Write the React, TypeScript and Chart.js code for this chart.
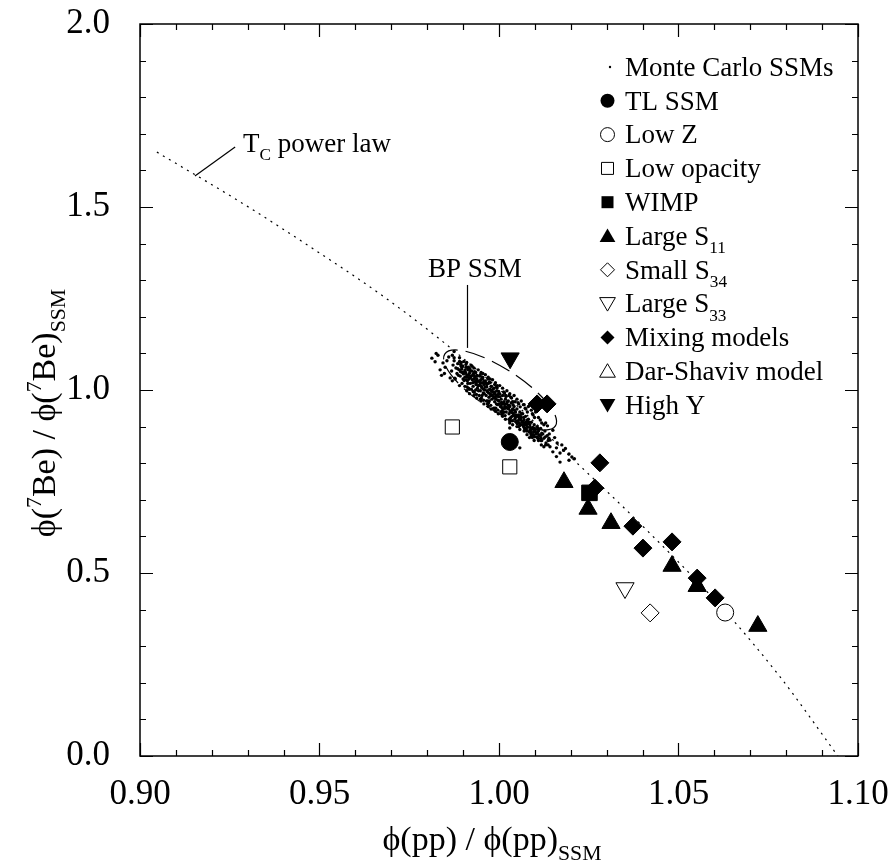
import React, { useEffect, useRef } from 'react';
import { Chart, registerables } from 'chart.js';

Chart.register(...registerables);

const FONT = "'Liberation Serif', 'Times New Roman', serif";

// ---------- axis ticks ----------
const xMajorTicks = [0.9, 0.95, 1.0, 1.05, 1.1];
const xMinorTicks = [0.91, 0.92, 0.93, 0.94, 0.96, 0.97, 0.98, 0.99, 1.01, 1.02, 1.03, 1.04, 1.06, 1.07, 1.08, 1.09];
const yMajorTicks = [0, 0.5, 1.0, 1.5, 2.0];
const yMinorTicks = [0.1, 0.2, 0.3, 0.4, 0.6, 0.7, 0.8, 0.9, 1.1, 1.2, 1.3, 1.4, 1.6, 1.7, 1.8, 1.9];

// ---------- T_C power law curve ----------
const tcX = [0.9047, 0.9279, 0.9482, 0.9669, 0.9827, 1.0003, 1.0192, 1.0393, 1.0632, 1.0783, 1.0944];
const tcY = [1.65, 1.514, 1.386, 1.262, 1.145, 1.0, 0.824, 0.635, 0.393, 0.216, 0.0];

// ---------- models ----------
const tlX = [1.003];
const tlY = [0.858];
const lowZX = [1.063];
const lowZY = [0.392];
const lowOpX = [0.987, 1.003];
const lowOpY = [0.899, 0.79];
const wimpX = [1.0252];
const wimpY = [0.719];
const s11X = [1.0181, 1.0248, 1.0312, 1.0482, 1.0552, 1.0721];
const s11Y = [0.748, 0.675, 0.636, 0.519, 0.464, 0.355];
const s34X = [1.0421];
const s34Y = [0.391];
const s33X = [1.0351];
const s33Y = [0.459];
const mixX = [1.0106, 1.0134, 1.0281, 1.0267, 1.0373, 1.0401, 1.0482, 1.0552, 1.0602];
const mixY = [0.962, 0.962, 0.801, 0.732, 0.628, 0.568, 0.585, 0.486, 0.432];
const dsX = [1.0552];
const dsY = [0.464];
const highYX = [1.0031];
const highYY = [1.087];

// ---------- Monte Carlo SSMs (read from the cloud) ----------
const mcPoints: [number, number][] = [
  [0.9813, 1.087], [0.9822, 1.077], [0.9844, 1.074], [0.9836, 1.055], [0.983, 1.095], [0.985, 1.062], [0.9855, 1.08], [0.9864, 1.033], [0.986, 1.09], [0.9848, 1.045],
  [0.9872, 1.068], [0.9868, 1.052], [0.9875, 1.08], [0.988, 1.06], [0.9883, 1.045], [0.9885, 1.072], [0.9889, 1.055], [0.9892, 1.038], [0.9895, 1.065], [0.9898, 1.048], [0.9878, 1.03], [0.989, 1.078], [0.99, 1.03], [0.9896, 1.057],
  [0.9903, 1.05], [0.9905, 1.035], [0.9908, 1.062], [0.991, 1.042], [0.9912, 1.025], [0.9914, 1.055], [0.9916, 1.033], [0.9918, 1.046], [0.992, 1.018], [0.9922, 1.038], [0.9924, 1.052], [0.9926, 1.028], [0.9928, 1.01], [0.993, 1.04], [0.9932, 1.022], [0.9934, 1.047], [0.9936, 1.015], [0.9938, 1.03], [0.994, 1.005], [0.9915, 1.005], [0.9925, 1.065], [0.9935, 1.0],
  [0.9942, 1.025], [0.9944, 1.012], [0.9946, 1.038], [0.9948, 0.998], [0.995, 1.02], [0.9952, 1.006], [0.9954, 1.03], [0.9956, 0.992], [0.9958, 1.015], [0.996, 1.0], [0.9962, 1.025], [0.9964, 0.985], [0.9966, 1.008], [0.9968, 0.995], [0.997, 1.018], [0.9972, 0.98], [0.9974, 1.002], [0.9976, 0.99], [0.9978, 1.01], [0.998, 0.975], [0.9945, 0.985], [0.9955, 1.045], [0.9965, 0.97], [0.9975, 1.03],
  [0.9982, 0.995], [0.9984, 0.982], [0.9986, 1.005], [0.9988, 0.968], [0.999, 0.988], [0.9992, 0.975], [0.9994, 0.998], [0.9996, 0.96], [0.9998, 0.982], [1.0, 0.97], [1.0002, 0.99], [1.0004, 0.955], [1.0006, 0.975], [1.0008, 0.962], [1.001, 0.985], [1.0012, 0.948], [1.0014, 0.968], [1.0016, 0.955], [1.0018, 0.975], [1.002, 0.94], [0.9985, 0.95], [0.9995, 1.012], [1.0005, 0.94], [1.0015, 0.992],
  [1.0022, 0.962], [1.0024, 0.95], [1.0026, 0.97], [1.0028, 0.935], [1.003, 0.955], [1.0032, 0.942], [1.0034, 0.965], [1.0036, 0.928], [1.0038, 0.948], [1.004, 0.935], [1.0042, 0.955], [1.0044, 0.92], [1.0046, 0.94], [1.0048, 0.928], [1.005, 0.948], [1.0052, 0.912], [1.0054, 0.932], [1.0056, 0.92], [1.0058, 0.94], [1.006, 0.905], [1.003, 0.91], [1.0045, 0.968], [1.0055, 0.9],
  [1.0062, 0.925], [1.0064, 0.912], [1.0066, 0.935], [1.0068, 0.9], [1.007, 0.918], [1.0072, 0.905], [1.0074, 0.928], [1.0076, 0.892], [1.0078, 0.912], [1.008, 0.898], [1.0082, 0.92], [1.0084, 0.885], [1.0086, 0.905], [1.0088, 0.892], [1.009, 0.912], [1.0092, 0.878], [1.0094, 0.898], [1.0096, 0.885], [1.0098, 0.905], [1.01, 0.872],
  [1.0102, 0.892], [1.0104, 0.88], [1.0106, 0.9], [1.0108, 0.868], [1.011, 0.888], [1.0113, 0.875], [1.0116, 0.895], [1.0119, 0.862], [1.0122, 0.88], [1.0125, 0.868], [1.0128, 0.888], [1.0131, 0.855], [1.0134, 0.875], [1.0137, 0.862], [1.014, 0.88],
  [1.0142, 0.863], [1.015, 0.831], [1.0162, 0.855], [1.017, 0.828], [1.0203, 0.817], [1.017, 0.803], [1.0142, 0.845], [1.0155, 0.87], [1.0185, 0.84], [1.0175, 0.85], [1.003, 0.896], [1.0058, 0.842], [1.0195, 0.825], [1.0125, 0.845], [1.0085, 0.87],
  [0.9885, 1.058], [0.9893, 1.05], [0.9901, 1.044], [0.9907, 1.048], [0.9911, 1.036], [0.9917, 1.03], [0.9921, 1.034], [0.9927, 1.02], [0.9931, 1.03], [0.9937, 1.02], [0.9941, 1.012], [0.9947, 1.015], [0.9951, 1.01], [0.9957, 1.002], [0.9961, 1.008], [0.9967, 0.998], [0.9971, 0.992], [0.9977, 0.985], [0.9981, 0.985], [0.9987, 0.978], [0.9991, 0.982], [0.9997, 0.972], [1.0001, 0.962], [1.0007, 0.966], [1.0011, 0.962], [1.0017, 0.95], [1.0021, 0.952], [1.0027, 0.948], [1.0031, 0.94], [1.0037, 0.938], [1.0041, 0.93], [1.0047, 0.932], [1.0051, 0.928], [1.0057, 0.925], [1.0061, 0.918], [1.0067, 0.915], [1.0071, 0.91], [1.0077, 0.905], [1.0081, 0.908], [1.0087, 0.898], [1.0091, 0.893], [1.0097, 0.892], [1.0101, 0.885], [1.0107, 0.884], [1.0111, 0.878], [1.0117, 0.876],
  [0.9903, 1.026], [0.9913, 1.018], [0.9923, 1.002], [0.9933, 1.035], [0.9943, 0.998], [0.9953, 0.985], [0.9963, 1.02], [0.9973, 0.97], [0.9983, 1.002], [0.9993, 0.962], [1.0003, 0.982], [1.0013, 0.94], [1.0023, 0.968], [1.0033, 0.925], [1.0043, 0.945], [1.0053, 0.915], [1.0063, 0.935], [1.0073, 0.895], [1.0083, 0.912], [1.0093, 0.87],
  [0.987, 1.095], [0.987, 1.025], [0.989, 1.088], [0.989, 1.012], [0.9893, 1.07], [0.991, 1.075], [0.991, 0.998], [0.9913, 1.06], [0.993, 1.06], [0.993, 0.985], [0.9932, 1.05], [0.995, 1.048], [0.995, 0.97], [0.9953, 1.035], [0.9948, 0.975],
  [0.997, 1.035], [0.997, 0.955], [0.9973, 1.022], [0.9968, 0.962], [0.999, 1.02], [0.999, 0.942], [0.9993, 1.008], [0.9988, 0.95], [1.001, 1.005], [1.001, 0.928], [1.0013, 0.995], [1.0008, 0.935], [1.003, 0.99], [1.003, 0.915], [1.0033, 0.98], [1.0028, 0.92],
  [1.005, 0.975], [1.005, 0.9], [1.0053, 0.965], [1.007, 0.96], [1.007, 0.888], [1.0073, 0.95], [1.009, 0.945], [1.009, 0.875], [1.0093, 0.935], [1.011, 0.925], [1.011, 0.862], [1.013, 0.91], [1.013, 0.85], [1.015, 0.89], [1.016, 0.842],
  [0.9825, 1.1], [0.984, 1.04], [0.9875, 1.105], [0.9905, 1.01], [1.0125, 0.905], [1.018, 0.835], [1.021, 0.812], [1.0195, 0.808], [1.016, 0.818],
  [0.9887, 1.04], [0.9897, 1.062], [0.9909, 1.028], [0.9919, 1.058], [0.9929, 1.045], [0.9939, 1.04], [0.9949, 1.028], [0.9959, 0.99], [0.9969, 1.03], [0.9979, 0.998], [0.9989, 0.995], [0.9999, 0.99], [1.0009, 0.95], [1.0019, 0.985], [1.0029, 0.958], [1.0039, 0.96], [1.0049, 0.915], [1.0059, 0.93], [1.0069, 0.925], [1.0079, 0.918], [1.0089, 0.88], [1.0099, 0.895], [1.0109, 0.895], [1.0119, 0.882], [1.0129, 0.872], [1.0139, 0.868],
  [0.9906, 1.055], [0.9916, 1.04], [0.9926, 1.04], [0.9936, 1.025], [0.9946, 1.022], [0.9956, 1.02], [0.9966, 1.015], [0.9976, 1.0], [0.9986, 0.99], [0.9996, 0.985], [1.0006, 0.955], [1.0016, 0.962], [1.0026, 0.958], [1.0036, 0.945], [1.0046, 0.925], [1.0056, 0.91], [1.0066, 0.905], [1.0076, 0.912], [1.0086, 0.89], [1.0096, 0.878], [1.0106, 0.872], [1.0116, 0.868],
  [0.9875, 1.088], [0.9877, 1.032], [0.9895, 1.075], [0.9897, 1.018], [0.9899, 1.066], [0.9915, 1.062], [0.9917, 1.002], [0.9919, 1.052], [0.9911, 1.008],
  [0.9935, 1.048], [0.9937, 0.988], [0.9939, 1.038], [0.9931, 0.994], [0.9955, 1.034], [0.9957, 0.972], [0.9959, 1.024], [0.9951, 0.978],
  [0.9975, 1.02], [0.9977, 0.958], [0.9979, 1.01], [0.9971, 0.965], [0.9995, 1.006], [0.9997, 0.945], [0.9999, 0.996], [0.9991, 0.95],
  [1.0015, 0.992], [1.0017, 0.93], [1.0019, 0.982], [1.0011, 0.936], [1.0035, 0.978], [1.0037, 0.916], [1.0039, 0.968], [1.0031, 0.922],
  [1.0055, 0.962], [1.0057, 0.902], [1.0059, 0.954], [1.0051, 0.908], [1.0075, 0.948], [1.0077, 0.888], [1.0079, 0.94], [1.0071, 0.895],
  [1.0095, 0.932], [1.0097, 0.875], [1.0099, 0.925], [1.0115, 0.918], [1.0117, 0.862], [1.0119, 0.91], [1.0135, 0.902], [1.0137, 0.85],
  [0.9902, 1.078], [0.9922, 1.068], [0.9942, 1.055], [0.9962, 1.042], [0.9982, 1.028], [1.0002, 1.012], [1.0022, 0.998], [1.0042, 0.985], [1.0062, 0.97], [1.0082, 0.955], [1.0102, 0.94],
  [0.9918, 0.99], [0.9938, 0.978], [0.9958, 0.962], [0.9978, 0.948], [0.9998, 0.935], [1.0018, 0.92], [1.0038, 0.905], [1.0058, 0.892], [1.0078, 0.878], [1.0098, 0.862], [1.0118, 0.85],
  [0.9908, 1.07], [0.9948, 1.042], [0.9988, 1.015], [1.0028, 0.985], [1.0068, 0.96], [0.9928, 0.996], [0.9968, 0.97], [1.0008, 0.942], [1.0048, 0.912], [1.0088, 0.885],
];

type Part = { t: string; sub?: boolean; sup?: boolean };

function pts(xs: number[], ys: number[]) {
  return xs.map((x, i) => ({ x, y: ys[i] }));
}

function drawRich(ctx: CanvasRenderingContext2D, parts: Part[], x: number, y: number, size: number, measureOnly = false): number {
  let cx = x;
  for (const p of parts) {
    const s = p.sub || p.sup ? size * 0.64 : size;
    ctx.font = `${s}px ${FONT}`;
    const dy = p.sub ? size * 0.3 : p.sup ? -size * 0.4 : 0;
    if (!measureOnly) ctx.fillText(p.t, cx, y + dy);
    cx += ctx.measureText(p.t).width;
  }
  return cx - x;
}

function drawSym(ctx: CanvasRenderingContext2D, style: string, x: number, y: number, r: number, fill: boolean) {
  ctx.beginPath();
  if (style === 'circle') ctx.arc(x, y, r, 0, Math.PI * 2);
  else if (style === 'square') ctx.rect(x - r, y - r, 2 * r, 2 * r);
  else if (style === 'tri') {
    ctx.moveTo(x, y - r);
    ctx.lineTo(x + r * 1.05, y + r * 0.8);
    ctx.lineTo(x - r * 1.05, y + r * 0.8);
    ctx.closePath();
  } else if (style === 'tridown') {
    ctx.moveTo(x, y + r);
    ctx.lineTo(x + r * 1.05, y - r * 0.8);
    ctx.lineTo(x - r * 1.05, y - r * 0.8);
    ctx.closePath();
  } else if (style === 'diamond') {
    ctx.moveTo(x, y - r);
    ctx.lineTo(x + r, y);
    ctx.lineTo(x, y + r);
    ctx.lineTo(x - r, y);
    ctx.closePath();
  }
  if (fill) {
    ctx.fillStyle = '#000';
    ctx.fill();
  } else {
    ctx.fillStyle = '#fff';
    ctx.fill();
    ctx.lineWidth = 1;
    ctx.strokeStyle = '#000';
    ctx.stroke();
  }
}

const legendItems: { parts: Part[]; style: string; fill: boolean; r: number }[] = [
  { parts: [{ t: 'Monte Carlo SSMs' }], style: 'dot', fill: true, r: 1.2 },
  { parts: [{ t: 'TL SSM' }], style: 'circle', fill: true, r: 7 },
  { parts: [{ t: 'Low Z' }], style: 'circle', fill: false, r: 7 },
  { parts: [{ t: 'Low opacity' }], style: 'square', fill: false, r: 6 },
  { parts: [{ t: 'WIMP' }], style: 'square', fill: true, r: 6 },
  { parts: [{ t: 'Large S' }, { t: '11', sub: true }], style: 'tri', fill: true, r: 7.5 },
  { parts: [{ t: 'Small S' }, { t: '34', sub: true }], style: 'diamond', fill: false, r: 7 },
  { parts: [{ t: 'Large S' }, { t: '33', sub: true }], style: 'tridown', fill: false, r: 7.5 },
  { parts: [{ t: 'Mixing models' }], style: 'diamond', fill: true, r: 7 },
  { parts: [{ t: 'Dar-Shaviv model' }], style: 'tri', fill: false, r: 7.5 },
  { parts: [{ t: 'High Y' }], style: 'tridown', fill: true, r: 7.5 },
];

const decorPlugin = {
  id: 'decor',
  beforeDatasetsDraw(chart: any) {
    const { ctx, scales } = chart;
    const x = scales.x, y = scales.y;
    // BP SSM ellipse
    const cx = x.getPixelForValue(1.0003);
    const cy = y.getPixelForValue(1.0);
    ctx.save();
    ctx.beginPath();
    ctx.ellipse(cx, cy, 66, 21, (33 * Math.PI) / 180, 0, Math.PI * 2);
    ctx.setLineDash([20, 8]);
    ctx.lineWidth = 1.2;
    ctx.strokeStyle = '#000';
    ctx.stroke();
    ctx.restore();
  },
  afterDraw(chart: any) {
    const { ctx, chartArea, scales } = chart;
    const { left, right, top, bottom } = chartArea;
    const x = scales.x, y = scales.y;
    ctx.save();
    ctx.strokeStyle = '#000';
    ctx.lineWidth = 1.5;
    ctx.strokeRect(left, top, right - left, bottom - top);
    ctx.lineWidth = 1.2;
    ctx.beginPath();
    const tick = (len: number, vals: number[], axis: 'x' | 'y') => {
      for (const v of vals) {
        if (axis === 'x') {
          const p = Math.round(x.getPixelForValue(v)) + 0.5;
          ctx.moveTo(p, bottom);
          ctx.lineTo(p, bottom - len);
          ctx.moveTo(p, top);
          ctx.lineTo(p, top + len);
        } else {
          const p = Math.round(y.getPixelForValue(v)) + 0.5;
          ctx.moveTo(left, p);
          ctx.lineTo(left + len, p);
          ctx.moveTo(right, p);
          ctx.lineTo(right - len, p);
        }
      }
    };
    tick(13, xMajorTicks, 'x');
    tick(6, xMinorTicks, 'x');
    tick(13, yMajorTicks, 'y');
    tick(6, yMinorTicks, 'y');
    ctx.stroke();

    ctx.fillStyle = '#000';
    ctx.textBaseline = 'alphabetic';
    ctx.textAlign = 'left';

    // x title
    const xt: Part[] = [{ t: 'ϕ(pp) / ϕ(pp)' }, { t: 'SSM', sub: true }];
    const xw = drawRich(ctx, xt, 0, 0, 34, true);
    drawRich(ctx, xt, 492 - xw / 2, 850, 34);

    // y title
    const yt: Part[] = [{ t: 'ϕ(' }, { t: '7', sup: true }, { t: 'Be) / ϕ(' }, { t: '7', sup: true }, { t: 'Be)' }, { t: 'SSM', sub: true }];
    const yw = drawRich(ctx, yt, 0, 0, 34, true);
    ctx.save();
    ctx.translate(55, 413 + yw / 2);
    ctx.rotate(-Math.PI / 2);
    drawRich(ctx, yt, 0, 0, 34);
    ctx.restore();

    // T_C power law annotation
    ctx.lineWidth = 1.2;
    ctx.beginPath();
    ctx.moveTo(x.getPixelForValue(0.9153), y.getPixelForValue(1.585));
    ctx.lineTo(x.getPixelForValue(0.9265), y.getPixelForValue(1.664));
    ctx.stroke();
    drawRich(ctx, [{ t: 'T' }, { t: 'C', sub: true }, { t: ' power law' }], x.getPixelForValue(0.9287), y.getPixelForValue(1.65), 27);

    // BP SSM annotation
    drawRich(ctx, [{ t: 'BP SSM' }], x.getPixelForValue(0.9802), y.getPixelForValue(1.309), 27);
    ctx.beginPath();
    const lx = Math.round(x.getPixelForValue(0.9911)) + 0.5;
    ctx.moveTo(lx, y.getPixelForValue(1.287));
    ctx.lineTo(lx, y.getPixelForValue(1.115));
    ctx.stroke();

    // legend
    legendItems.forEach((it, i) => {
      const cy = 67 + 33.8 * i;
      if (it.style === 'dot') {
        ctx.beginPath();
        ctx.arc(610, cy, it.r, 0, Math.PI * 2);
        ctx.fillStyle = '#000';
        ctx.fill();
      } else {
        drawSym(ctx, it.style, 607.5, cy, it.r, it.fill);
      }
      ctx.fillStyle = '#000';
      drawRich(ctx, it.parts, 625, cy + 8.8, 27);
    });
    ctx.restore();
  },
};

export default function App() {
  const ref = useRef<HTMLCanvasElement | null>(null);
  useEffect(() => {
    if (!ref.current) return;
    const open = { backgroundColor: '#fff', borderColor: '#000', borderWidth: 1 };
    const filled = { backgroundColor: '#000', borderColor: '#000', borderWidth: 1 };
    const chart = new Chart(ref.current, {
      type: 'scatter',
      data: {
        datasets: [
          { label: 'TL SSM', data: pts(tlX, tlY), pointStyle: 'circle', pointRadius: 8.5, order: 5, ...filled },
          { label: 'Low Z', data: pts(lowZX, lowZY), pointStyle: 'circle', pointRadius: 8.5, order: 5, ...open },
          { label: 'Low opacity', data: pts(lowOpX, lowOpY), pointStyle: 'rect', pointRadius: 10, order: 5, ...open },
          { label: 'WIMP', data: pts(wimpX, wimpY), pointStyle: 'rect', pointRadius: 11, order: 6, ...filled },
          { label: 'Large S11', data: pts(s11X, s11Y), pointStyle: 'triangle', pointRadius: 10.5, order: 5, ...filled },
          { label: 'Small S34', data: pts(s34X, s34Y), pointStyle: 'rectRot', pointRadius: 9, order: 5, ...open },
          { label: 'Large S33', data: pts(s33X, s33Y), pointStyle: 'triangle', pointRotation: 180, pointRadius: 10.5, order: 5, ...open },
          { label: 'Mixing models', data: pts(mixX, mixY), pointStyle: 'rectRot', pointRadius: 9, order: 4, ...filled },
          { label: 'Dar-Shaviv model', data: pts(dsX, dsY), pointStyle: 'triangle', pointRadius: 10, order: 8, ...open },
          { label: 'High Y', data: pts(highYX, highYY), pointStyle: 'triangle', pointRotation: 180, pointRadius: 10.5, order: 5, ...filled },
          { label: 'Monte Carlo SSMs', data: mcPoints.map(([x, y]) => ({ x, y })), pointStyle: 'circle', pointRadius: 1.7, borderWidth: 0, backgroundColor: '#000', order: 9 },
          {
            label: 'TC power law',
            data: pts(tcX, tcY),
            showLine: true,
            pointRadius: 0,
            borderColor: '#000',
            borderWidth: 1.2,
            borderDash: [2, 5],
            cubicInterpolationMode: 'monotone',
            order: 10,
          } as any,
        ],
      },
      options: {
        responsive: false,
        animation: false,
        devicePixelRatio: 1,
        layout: { padding: { left: 0, top: 24, right: 38, bottom: 0 } },
        plugins: { legend: { display: false }, tooltip: { enabled: false } },
        scales: {
          x: {
            type: 'linear',
            min: 0.9,
            max: 1.1,
            grid: { display: false },
            border: { display: false },
            ticks: {
              stepSize: 0.05,
              color: '#000',
              padding: 10,
              maxRotation: 0,
              autoSkip: false,
              font: { family: FONT, size: 35 },
              callback: (v: any) => Number(v).toFixed(2),
            },
            afterFit: (s: any) => {
              s.height = 106;
              s.paddingLeft = 0;
              s.paddingRight = 0;
              s.paddingTop = 0;
              s.paddingBottom = 0;
            },
          },
          y: {
            type: 'linear',
            min: 0,
            max: 2,
            grid: { display: false },
            border: { display: false },
            ticks: {
              stepSize: 0.5,
              color: '#000',
              padding: 22,
              autoSkip: false,
              font: { family: FONT, size: 35 },
              callback: (v: any) => Number(v).toFixed(1),
            },
            afterFit: (s: any) => {
              s.width = 140;
              s.paddingLeft = 0;
              s.paddingRight = 0;
              s.paddingTop = 0;
              s.paddingBottom = 0;
            },
          },
        },
      } as any,
      plugins: [decorPlugin],
    });
    return () => chart.destroy();
  }, []);
  return (
    <div style={{ position: 'fixed', left: 0, top: 0, width: 896, height: 862, background: '#fff' }}>
      <canvas ref={ref} width={896} height={862} style={{ display: 'block' }} />
    </div>
  );
}
